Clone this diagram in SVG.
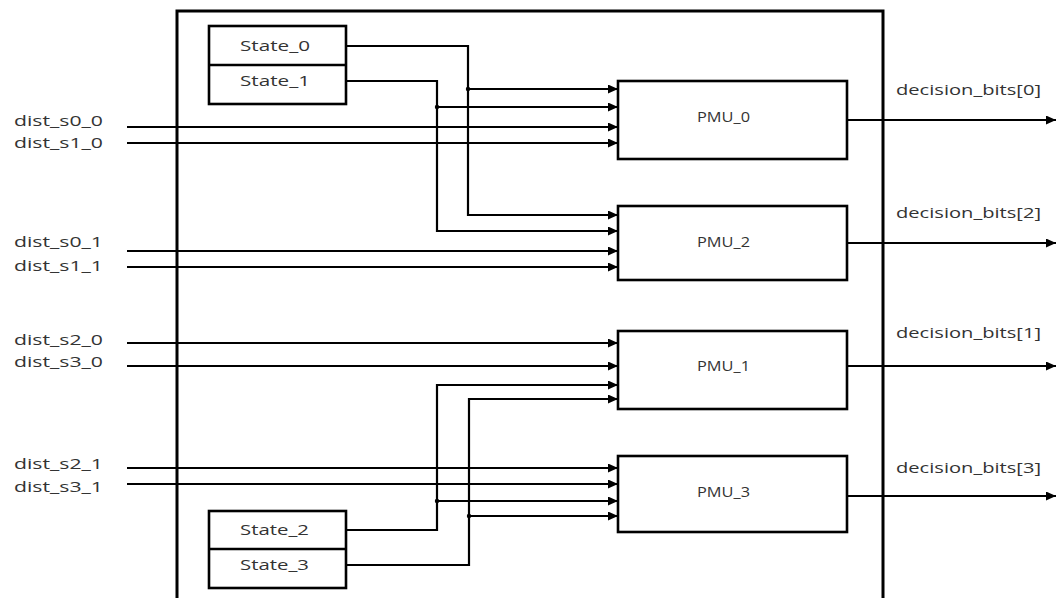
<svg xmlns="http://www.w3.org/2000/svg" width="1064" height="598" viewBox="0 0 1064 598">
<style>
.box{fill:#fff;stroke:#000;stroke-width:2.6}
.outer{fill:none;stroke:#000;stroke-width:3}
.w{fill:none;stroke:#000;stroke-width:2.2}
.t{font-family:"Open Sans","Noto Sans",sans-serif;font-size:15px;fill:#333}
</style>
<defs>
<marker id="arr" markerUnits="userSpaceOnUse" markerWidth="11" markerHeight="9" refX="10" refY="4.5" orient="auto">
<path d="M0,0 L10,4.5 L0,9 Z" fill="#000"/>
</marker>
</defs>
<rect width="1064" height="598" fill="#fff"/>
<path class="outer" d="M177,600 V11 H883 V600"/>
<g id="connectors">
<path class="w" marker-end="url(#arr)" d="M127,127 H618"/>
<path class="w" marker-end="url(#arr)" d="M127,143 H618"/>
<path class="w" marker-end="url(#arr)" d="M127,251 H618"/>
<path class="w" marker-end="url(#arr)" d="M127,267 H618"/>
<path class="w" marker-end="url(#arr)" d="M127,343 H618"/>
<path class="w" marker-end="url(#arr)" d="M127,366 H618"/>
<path class="w" marker-end="url(#arr)" d="M127,468 H618"/>
<path class="w" marker-end="url(#arr)" d="M127,484 H618"/>
<path class="w" marker-end="url(#arr)" d="M346,46 H468 V215 H618"/>
<path class="w" marker-end="url(#arr)" d="M468,89 H618"/>
<path class="w" marker-end="url(#arr)" d="M346,81 H437 V231 H618"/>
<path class="w" marker-end="url(#arr)" d="M437,107 H618"/>
<path class="w" marker-end="url(#arr)" d="M346,530 H437 V385 H618"/>
<path class="w" marker-end="url(#arr)" d="M437,501 H618"/>
<path class="w" marker-end="url(#arr)" d="M346,565 H469 V399 H618"/>
<path class="w" marker-end="url(#arr)" d="M469,516 H618"/>
<circle cx="468" cy="89" r="2.2"/>
<circle cx="437" cy="107" r="2.2"/>
<circle cx="437" cy="501" r="2.2"/>
<circle cx="469" cy="516" r="2.2"/>
<path class="w" marker-end="url(#arr)" d="M847,120 H1056"/>
<path class="w" marker-end="url(#arr)" d="M847,243 H1056"/>
<path class="w" marker-end="url(#arr)" d="M847,366 H1056"/>
<path class="w" marker-end="url(#arr)" d="M847,496 H1056"/>
</g>
<g id="inputs">
<text class="t" x="14" y="126" textLength="89" lengthAdjust="spacingAndGlyphs">dist_s0_0</text>
<text class="t" x="14" y="148" textLength="89" lengthAdjust="spacingAndGlyphs">dist_s1_0</text>
<text class="t" x="14" y="247" textLength="89" lengthAdjust="spacingAndGlyphs">dist_s0_1</text>
<text class="t" x="14" y="271" textLength="89" lengthAdjust="spacingAndGlyphs">dist_s1_1</text>
<text class="t" x="14" y="345" textLength="89" lengthAdjust="spacingAndGlyphs">dist_s2_0</text>
<text class="t" x="14" y="367" textLength="89" lengthAdjust="spacingAndGlyphs">dist_s3_0</text>
<text class="t" x="14" y="469" textLength="89" lengthAdjust="spacingAndGlyphs">dist_s2_1</text>
<text class="t" x="14" y="492" textLength="89" lengthAdjust="spacingAndGlyphs">dist_s3_1</text>
</g>
<g id="outputs">
<text class="t" x="896" y="95" textLength="145" lengthAdjust="spacingAndGlyphs">decision_bits[0]</text>
<text class="t" x="896" y="218" textLength="145" lengthAdjust="spacingAndGlyphs">decision_bits[2]</text>
<text class="t" x="896" y="338" textLength="145" lengthAdjust="spacingAndGlyphs">decision_bits[1]</text>
<text class="t" x="896" y="473" textLength="145" lengthAdjust="spacingAndGlyphs">decision_bits[3]</text>
</g>
<g id="state01">
<rect class="box" x="209" y="26" width="137" height="78"/>
<line class="box" x1="209" y1="65" x2="346" y2="65"/>
<text class="t" x="240" y="51" textLength="70" lengthAdjust="spacingAndGlyphs">State_0</text>
<text class="t" x="240" y="86" textLength="70" lengthAdjust="spacingAndGlyphs">State_1</text>
</g>
<g id="state23">
<rect class="box" x="209" y="511" width="137" height="77"/>
<line class="box" x1="209" y1="549" x2="346" y2="549"/>
<text class="t" x="240" y="535" textLength="69" lengthAdjust="spacingAndGlyphs">State_2</text>
<text class="t" x="240" y="570" textLength="69" lengthAdjust="spacingAndGlyphs">State_3</text>
</g>
<g id="pmu0">
<rect class="box" x="618" y="81" width="229" height="78"/>
<text class="t" x="697" y="122" textLength="53" lengthAdjust="spacingAndGlyphs">PMU_0</text>
</g>
<g id="pmu2">
<rect class="box" x="618" y="206" width="229" height="74"/>
<text class="t" x="697" y="247" textLength="53" lengthAdjust="spacingAndGlyphs">PMU_2</text>
</g>
<g id="pmu1">
<rect class="box" x="618" y="331" width="229" height="78"/>
<text class="t" x="697" y="371" textLength="53" lengthAdjust="spacingAndGlyphs">PMU_1</text>
</g>
<g id="pmu3">
<rect class="box" x="618" y="456" width="229" height="76"/>
<text class="t" x="697" y="497" textLength="53" lengthAdjust="spacingAndGlyphs">PMU_3</text>
</g>
</svg>
